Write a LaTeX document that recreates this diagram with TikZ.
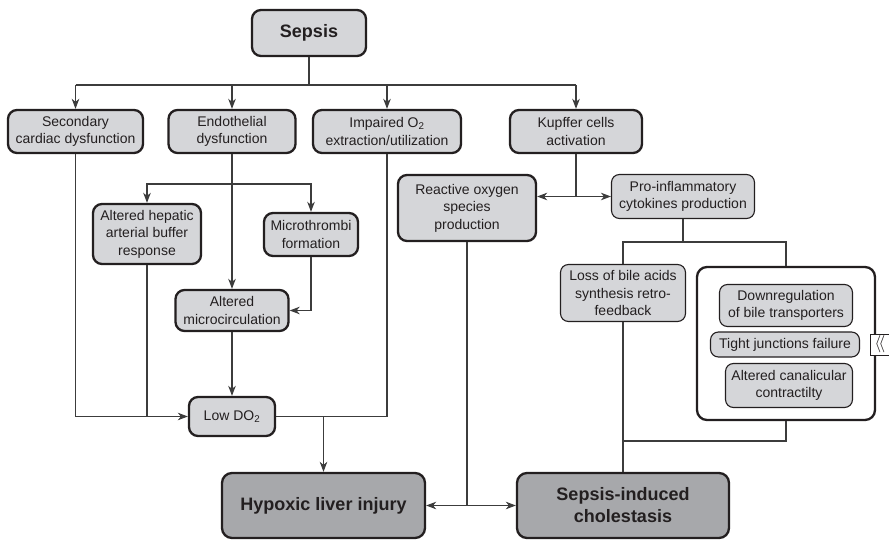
\documentclass[tikz,border=0pt]{standalone}
\usepackage{fontspec}
\setmainfont{Liberation Sans}
\usetikzlibrary{arrows.meta, calc}
\definecolor{boxgray}{RGB}{213,214,217}
\definecolor{outgray}{RGB}{167,168,171}
\definecolor{ink}{RGB}{35,31,32}
\definecolor{wire}{RGB}{60,60,60}

\begin{document}
\begin{tikzpicture}[
    x=1pt, y=-1pt,
    >={Stealth[length=10pt, width=7.5pt, inset=3pt]},
    blk/.style={draw=ink, rounded corners=9pt, align=center, line width=2.3pt, inner sep=2pt, fill=boxgray, text=ink, font=\fontsize{14}{17.5}\selectfont},
    lite/.style={blk, line width=1.1pt, rounded corners=8pt},
    head/.style={blk, font=\fontsize{18}{21}\selectfont\bfseries},
    outcome/.style={blk, fill=outgray, rounded corners=10pt, font=\fontsize{18}{22}\selectfont\bfseries},
    grp/.style={draw=ink, line width=2.3pt, rounded corners=10pt, fill=white},
    chev/.style={draw=ink, line width=0.9pt, fill=white, inner sep=0pt, text=ink},
    wire/.style={draw=wire, line width=1.3pt},
    flow/.style={wire, ->},
]
\useasboundingbox (0,0) rectangle (889,540);

% top level
\node[head] at (309,33) (sepsis) [minimum width=114pt, minimum height=46pt] {Sepsis};
\node[blk] at (75.5,131.5) (second)  [minimum width=135pt, minimum height=43pt] {Secondary\\cardiac dysfunction};
\node[blk] at (232,131.5)  (endo)    [minimum width=127pt, minimum height=43pt] {Endothelial\\dysfunction};
\node[blk] at (387,131.5)  (impair)  [minimum width=148pt, minimum height=43pt] {Impaired O\textsubscript{2}\\extraction/utilization};
\node[blk] at (576,131.5)  (kupffer) [minimum width=132pt, minimum height=43pt] {Kupffer cells\\activation};

% hypoxic branch
\node[blk] at (147,234)   (hepatic) [minimum width=108pt, minimum height=60pt] {Altered hepatic\\arterial buffer\\response};
\node[blk] at (311,234.5) (microth) [minimum width=94pt, minimum height=43pt] {Microthrombi\\formation};
\node[blk] at (232,310.5) (micro)   [minimum width=113pt, minimum height=41pt] {Altered\\microcirculation};
\node[blk] at (232,416.5) (lowdo)   [minimum width=86pt, minimum height=39pt] {Low DO\textsubscript{2}};

% cholestatic branch
\node[blk]  at (467,208)   (ros)    [minimum width=138pt, minimum height=66pt] {Reactive oxygen\\species\\production};
\node[lite] at (683,196.5) (proinf) [minimum width=143pt, minimum height=44pt] {Pro-inflammatory\\cytokines production};
\node[lite] at (623,293)   (bile)   [minimum width=125pt, minimum height=57pt] {Loss of bile acids\\synthesis retro-\\feedback};

\node[grp]  at (786,343.5) (group)  [minimum width=178pt, minimum height=153pt] {};
\node[lite] at (786,305.5) (down)   [minimum width=133pt, minimum height=42pt] {Downregulation\\of bile transporters};
\node[lite] at (785,344.5) (tight)  [minimum width=149pt, minimum height=25pt] {Tight junctions failure};
\node[lite] at (789,385.5) (canal)  [minimum width=127pt, minimum height=44pt] {Altered canalicular\\contractilty};
\node[chev] at (880,344.5) (fold)   [minimum width=20pt, minimum height=21pt] {\fontsize{18}{18}\selectfont$\langle\mkern-3mu\langle$};

% outcomes
\node[outcome] at (323.5,505.5) (hypoxic) [minimum width=203pt, minimum height=65pt] {Hypoxic liver injury};
\node[outcome] at (623,505.5)   (cholest) [minimum width=212pt, minimum height=65pt] {Sepsis-induced\\cholestasis};

% sepsis fan-out
\coordinate (fork) at (309,85);
\draw[wire] (sepsis) -- (fork);
\draw[wire] (fork -| second) -- (fork -| kupffer);
\foreach \n in {second, endo, impair, kupffer}
    \draw[flow] (fork -| \n) -- (\n);

% low DO2 side
\coordinate (split) at (232,184);
\draw[flow, <->] (hepatic.north) |- (split) -| (microth.north);
\draw[flow] (endo) -- (micro);
\draw[flow] (microth) |- (micro);
\draw[flow] (micro) -- (lowdo);
\draw[flow] (second) |- (lowdo);
\draw[wire] (hepatic) -- (hepatic |- lowdo);
\draw[wire] (impair) |- (lowdo);
\coordinate (drop) at (hypoxic |- lowdo);
\draw[flow] (drop) -- (hypoxic);

% Kupffer side
\coordinate (kbend) at (kupffer |- proinf);
\draw[wire] (kupffer) -- (kbend);
\draw[flow, <->] (kbend -| ros.east) -- (proinf.west);

\coordinate (pfork) at (683,242);
\draw[wire] (proinf) -- (pfork);
\draw[wire] (bile) |- (pfork) -| (group);

\coordinate (gjoin) at (623,441);
\draw[wire] (group) |- (gjoin);
\draw[wire] (bile) -- (cholest);

\coordinate (rjoin) at (ros |- hypoxic);
\draw[wire] (ros) -- (rjoin);
\draw[flow, <->] (hypoxic) -- (cholest);

\end{tikzpicture}
\end{document}
